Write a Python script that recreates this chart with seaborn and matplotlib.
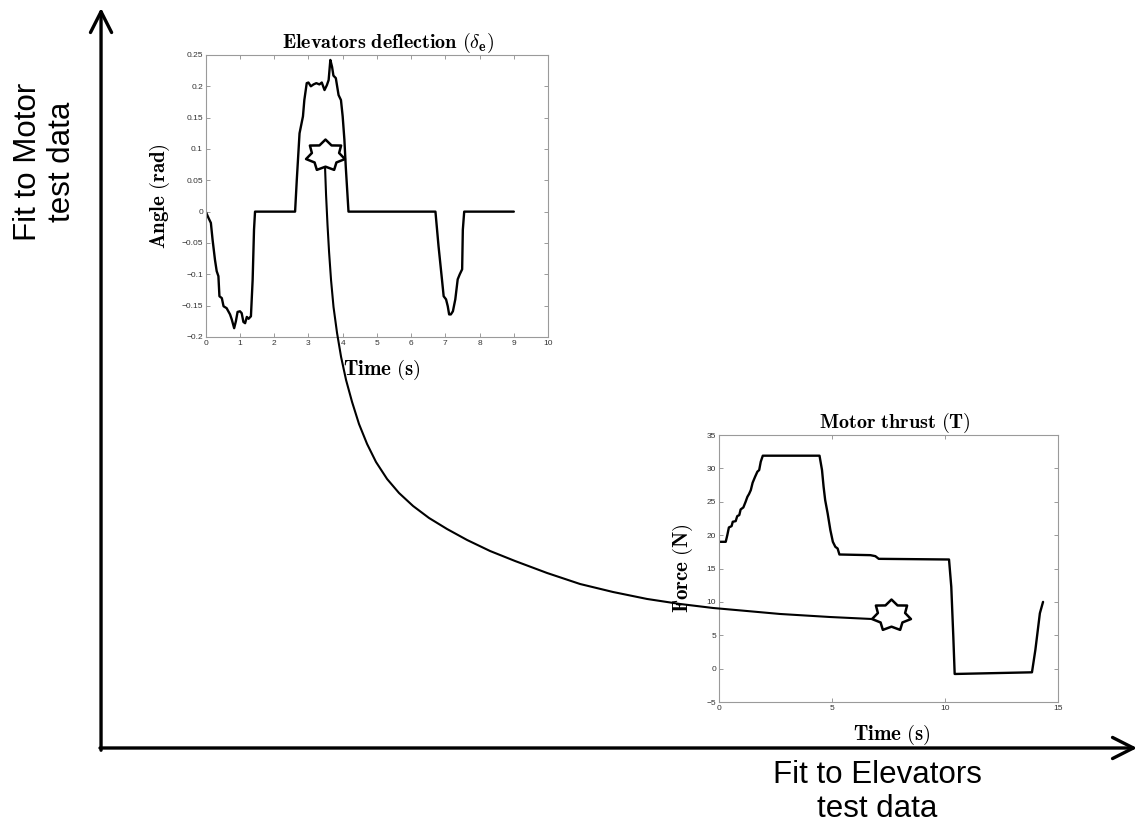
import numpy as np
import matplotlib
matplotlib.use("Agg")
import matplotlib.pyplot as plt
from matplotlib.path import Path
import seaborn as sns

sns.set_style("white")
plt.rcParams["font.family"] = ["Liberation Sans", "DejaVu Sans"]
plt.rcParams["mathtext.fontset"] = "cm"
plt.rcParams["axes.unicode_minus"] = True
plt.rcParams["text.color"] = "black"
plt.rcParams["axes.labelcolor"] = "black"

# ---- elevator deflection test signal ----
elev_time = [0, 0.08, 0.15, 0.20, 0.27, 0.32, 0.37, 0.40, 0.47, 0.52, 0.61, 0.71,
             0.76, 0.83, 0.88, 0.93, 1.00, 1.05, 1.10, 1.15, 1.20, 1.25, 1.32, 1.37,
             1.41, 1.44, 2.61, 2.66, 2.74, 2.84, 2.88, 2.95, 3.00, 3.07, 3.15, 3.23,
             3.32, 3.39, 3.47, 3.54, 3.59, 3.64, 3.69, 3.73, 3.80, 3.88, 3.95, 4.00,
             4.05, 4.09, 4.17, 6.71, 6.80, 6.90, 6.95, 7.02, 7.07, 7.11, 7.16, 7.22,
             7.29, 7.36, 7.42, 7.49, 7.51, 7.55, 9.0]
elev_angle = [0, -0.010, -0.018, -0.045, -0.077, -0.095, -0.103, -0.135, -0.138,
              -0.151, -0.154, -0.164, -0.172, -0.186, -0.175, -0.160, -0.159, -0.162,
              -0.176, -0.178, -0.168, -0.171, -0.167, -0.109, -0.029, 0, 0, 0.051,
              0.125, 0.152, 0.178, 0.205, 0.206, 0.200, 0.203, 0.205, 0.203, 0.206,
              0.194, 0.202, 0.210, 0.242, 0.231, 0.217, 0.213, 0.186, 0.178, 0.152,
              0.115, 0.072, 0, 0, -0.055, -0.108, -0.135, -0.140, -0.151, -0.164,
              -0.164, -0.159, -0.140, -0.108, -0.100, -0.092, -0.029, 0, 0]

# ---- motor thrust test signal ----
motor_time = [0, 0.30, 0.37, 0.44, 0.56, 0.61, 0.74, 0.81, 0.90, 0.96, 1.08, 1.18,
              1.26, 1.33, 1.41, 1.49, 1.60, 1.70, 1.78, 1.85, 1.94, 4.45, 4.56, 4.63,
              4.70, 4.81, 4.93, 5.04, 5.15, 5.25, 5.33, 6.70, 6.92, 7.07, 10.18, 10.28,
              10.37, 10.43, 13.85, 14.00, 14.20, 14.34]
motor_force = [19.0, 19.0, 20.0, 21.15, 21.35, 22.0, 22.1, 22.85, 23.0, 23.85, 24.15,
               25.0, 25.75, 26.15, 26.75, 27.85, 28.75, 29.5, 29.75, 31.0, 31.9, 31.9,
               29.75, 27.25, 25.25, 23.25, 20.75, 19.0, 18.25, 18.0, 17.1, 17.0, 16.85,
               16.45, 16.35, 12.25, 4.75, -0.8, -0.55, 2.8, 8.3, 10.0]

# ---- trade-off front between the two fits (normalised) ----
front_elev_fit = [0.2162, 0.2172, 0.2186, 0.2201, 0.2220, 0.2244, 0.2278, 0.2317,
                  0.2365, 0.2423, 0.2490, 0.2568, 0.2654, 0.2761, 0.2876, 0.3012,
                  0.3166, 0.3340, 0.3533, 0.3755, 0.3996, 0.4305, 0.4624, 0.4942,
                  0.5270, 0.5589, 0.5907, 0.6236, 0.6554, 0.7037, 0.7442]
front_motor_fit = [0.7851, 0.7473, 0.7068, 0.6703, 0.6324, 0.5959, 0.5608, 0.5284,
                   0.4973, 0.4676, 0.4378, 0.4108, 0.3865, 0.3635, 0.3446, 0.3270,
                   0.3108, 0.2959, 0.2811, 0.2662, 0.2527, 0.2365, 0.2216, 0.2108,
                   0.2014, 0.1946, 0.1892, 0.1851, 0.1811, 0.1770, 0.1743]
chosen_elev_fit = [0.2162, 0.7625]
chosen_motor_fit = [0.8014, 0.1797]

elev_xticks = list(range(0, 11))
elev_yticks = [-0.2, -0.15, -0.1, -0.05, 0, 0.05, 0.1, 0.15, 0.2, 0.25]
elev_ylabels = ["\u22120.2", "\u22120.15", "\u22120.1", "\u22120.05", "0",
                "0.05", "0.1", "0.15", "0.2", "0.25"]
motor_xticks = [0, 5, 10, 15]
motor_yticks = [-5, 0, 5, 10, 15, 20, 25, 30, 35]
motor_ylabels = ["\u22125", "0", "5", "10", "15", "20", "25", "30", "35"]

fig = plt.figure(figsize=(11.43, 8.30), dpi=100)


def style_inset(ax):
    for s in ax.spines.values():
        s.set_visible(True)
        s.set_color("#9a9a9a")
        s.set_linewidth(0.8)
    ax.tick_params(direction="in", length=3, width=0.6, color="#8a8a8a",
                   top=True, right=True, bottom=True, left=True,
                   labelsize=6, labelcolor="#333333", pad=2)
    ax.set_facecolor("white")


label_kw = dict(fontsize=15, color="black")
title_kw = dict(fontsize=14.5, color="black", pad=5)

# elevator inset
ax_e = fig.add_axes([0.180, 0.594, 0.2995, 0.3398])
style_inset(ax_e)
sns.lineplot(x=elev_time, y=elev_angle, ax=ax_e, color="black", linewidth=1.7,
             estimator=None, sort=False)
ax_e.set_xlim(0, 10)
ax_e.set_ylim(-0.2, 0.25)
ax_e.set_xticks(elev_xticks)
ax_e.set_xticklabels([str(v) for v in elev_xticks])
ax_e.set_yticks(elev_yticks)
ax_e.set_yticklabels(elev_ylabels)
ax_e.set_title(r"$\mathbf{Elevators\ deflection\ (}\delta_{\mathbf{e}}\mathbf{)}$",
               x=0.533, **title_kw)
ax_e.set_xlabel(r"$\mathbf{Time\ (s)}$", **label_kw)
ax_e.set_ylabel(r"$\mathbf{Angle\ (rad)}$", **label_kw)
ax_e.xaxis.set_label_coords(0.515, -0.075)
ax_e.yaxis.set_label_coords(-0.098, 0.5)

# motor inset
ax_m = fig.add_axes([0.629, 0.1542, 0.2966, 0.3217])
style_inset(ax_m)
sns.lineplot(x=motor_time, y=motor_force, ax=ax_m, color="black", linewidth=1.7,
             estimator=None, sort=False)
ax_m.set_xlim(0, 15)
ax_m.set_ylim(-5, 35)
ax_m.set_xticks(motor_xticks)
ax_m.set_xticklabels([str(v) for v in motor_xticks])
ax_m.set_yticks(motor_yticks)
ax_m.set_yticklabels(motor_ylabels)
ax_m.set_title(r"$\mathbf{Motor\ thrust\ (T)}$", x=0.519, **title_kw)
ax_m.set_xlabel(r"$\mathbf{Time\ (s)}$", **label_kw)
ax_m.set_ylabel(r"$\mathbf{Force\ (N)}$", **label_kw)
ax_m.xaxis.set_label_coords(0.51, -0.078)
ax_m.yaxis.set_label_coords(-0.071, 0.5)

# main trade-off axes drawn on top of the insets
ax = fig.add_axes([0.0884, 0.0988, 0.9064, 0.8916])
ax.set_facecolor("none")
ax.patch.set_alpha(0)
ax.set_xlim(0, 1)
ax.set_ylim(0, 1)
ax.axis("off")

arrow_kw = dict(arrowstyle="->,head_length=0.75,head_width=0.38", lw=2.4,
                color="black", shrinkA=0, shrinkB=0, mutation_scale=20)
ax.annotate("", xy=(0, 1.0), xytext=(0, -0.003), xycoords="axes fraction",
            textcoords="axes fraction", arrowprops=arrow_kw)
ax.annotate("", xy=(1.0, 0), xytext=(-0.001, 0), xycoords="axes fraction",
            textcoords="axes fraction", arrowprops=arrow_kw)

sns.lineplot(x=front_elev_fit, y=front_motor_fit, ax=ax, color="black",
             linewidth=1.5, estimator=None, sort=False)

# seven-pointed star outline for the selected solutions
ang = np.deg2rad(90 + np.arange(14) * 360 / 14)
rad = np.where(np.arange(14) % 2 == 0, 1.0, 0.7)
verts = np.column_stack([1.25 * rad * np.cos(ang), rad * np.sin(ang)])
verts = np.vstack([verts, verts[:1]])
codes = [Path.MOVETO] + [Path.LINETO] * 13 + [Path.CLOSEPOLY]
star = Path(verts, codes)
ax.plot(chosen_elev_fit, chosen_motor_fit, ls="none", marker=star, ms=28,
        mfc="white", mec="black", mew=1.8, zorder=6)

fig.text(45 / 1143, 1 - 162 / 830, "Fit to Motor\ntest data", rotation=90,
         ha="center", va="center", multialignment="center", fontsize=22.5,
         linespacing=1.2, color="black")
fig.text(877 / 1143, 1 - 792 / 830, "Fit to Elevators\ntest data",
         ha="center", va="center", multialignment="center", fontsize=22.5,
         linespacing=1.2, color="black")

fig.savefig("out.png", dpi=100)
